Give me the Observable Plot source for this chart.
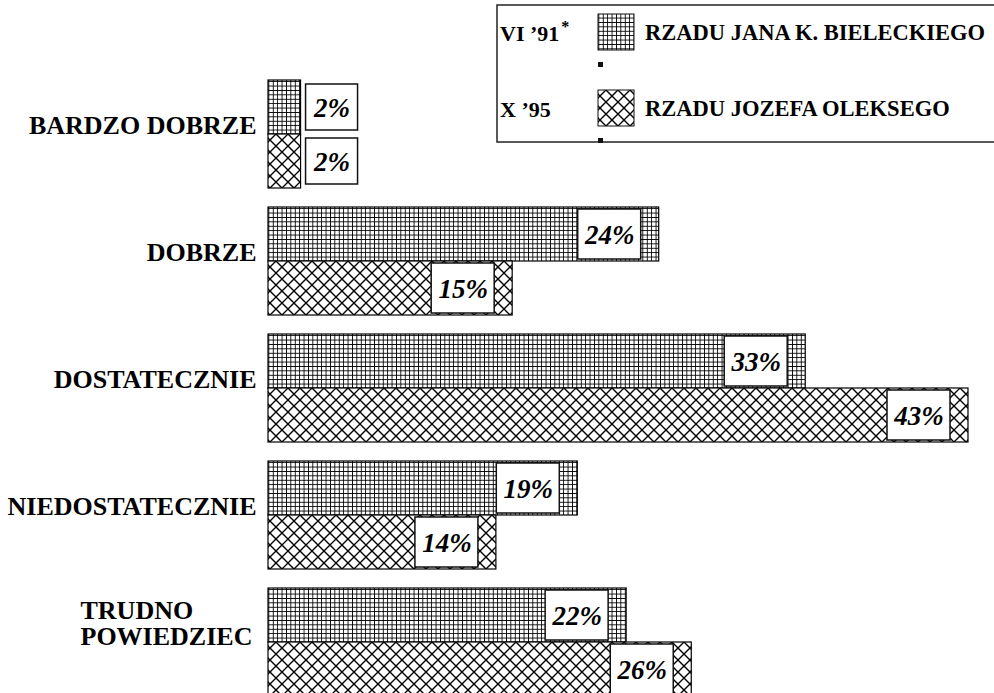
<!DOCTYPE html>
<html>
<head>
<meta charset="utf-8">
<script src="https://cdn.jsdelivr.net/npm/d3@7"></script>
<script src="https://cdn.jsdelivr.net/npm/@observablehq/plot@0.6"></script>
<style>
  html, body { margin: 0; padding: 0; background: #fff; overflow: hidden; }
</style>
</head>
<body>
<div id="chart"></div>
<script>
// ---- data ----
const categories = ["BARDZO DOBRZE", "DOBRZE", "DOSTATECZNIE", "NIEDOSTATECZNIE", "TRUDNO\nPOWIEDZIEC"];
const seriesKeys = ["VI '91", "X '95"];
const seriesNames = ["RZADU JANA K. BIELECKIEGO", "RZADU JOZEFA OLEKSEGO"];
const legendLabels = ["VI \u201991", "X \u201995"];
const values91 = [2, 24, 33, 19, 22];
const values95 = [2, 15, 43, 14, 26];

const rows = [];
categories.forEach((c, i) => {
  rows.push({category: c, series: seriesKeys[0], value: values91[i]});
  rows.push({category: c, series: seriesKeys[1], value: values95[i]});
});
const inside = rows.filter(d => d.value >= 5);
const outside = rows.filter(d => d.value < 5);
const singleLine = categories.filter(c => !c.includes("\n"));
const multiLine = categories.filter(c => c.includes("\n"));

const FONT = "Liberation Serif, Times New Roman, serif";

const chart = Plot.plot({
  width: 994,
  height: 697,
  marginLeft: 268,
  marginRight: 26,
  marginTop: 77,
  marginBottom: 0,
  style: {fontFamily: FONT, background: "white"},
  x: {domain: [0, 43], axis: null},
  y: {domain: seriesKeys, axis: null, paddingInner: 0, paddingOuter: 0},
  fy: {domain: categories, axis: null, paddingInner: 0.145, paddingOuter: 0},
  marks: [
    Plot.barX(rows.filter(d => d.series === seriesKeys[0]), {
      x: "value", y: "series", fy: "category",
      fill: "url(#gridPat)", stroke: "#000", strokeWidth: 1.2
    }),
    Plot.barX(rows.filter(d => d.series === seriesKeys[1]), {
      x: "value", y: "series", fy: "category",
      fill: "url(#crossPat)", stroke: "#000", strokeWidth: 1.2
    }),
    // value boxes inside the bar end
    Plot.barX(inside, {
      x1: "value", x2: "value", y: "series", fy: "category",
      insetLeft: -81, insetRight: 18, insetTop: 2, insetBottom: 2,
      fill: "white", stroke: "#111", strokeWidth: 1.5
    }),
    Plot.text(inside, {
      x: "value", y: "series", fy: "category",
      text: d => d.value + "%", dx: -49.5, dy: 1,
      fontSize: 27, fontWeight: "bold", fontStyle: "italic", fill: "#000"
    }),
    // value boxes outside small bars
    Plot.barX(outside, {
      x1: "value", x2: "value", y: "series", fy: "category",
      insetLeft: 5, insetRight: -57, insetTop: 4, insetBottom: 4,
      fill: "white", stroke: "#111", strokeWidth: 1.5
    }),
    Plot.text(outside, {
      x: "value", y: "series", fy: "category",
      text: d => d.value + "%", dx: 31, dy: 1,
      fontSize: 27, fontWeight: "bold", fontStyle: "italic", fill: "#000"
    }),
    // category labels
    Plot.text(singleLine, {
      fy: d => d, text: d => d, frameAnchor: "left", textAnchor: "end",
      dx: -12, dy: -8, fontSize: 26, fontWeight: "bold", fill: "#000"
    }),
    Plot.text(multiLine, {
      fy: d => d, text: d => d, frameAnchor: "left", textAnchor: "start",
      dx: -188, dy: -18, lineHeight: 1.0, fontSize: 26, fontWeight: "bold", fill: "#000"
    })
  ]
});

document.getElementById("chart").appendChild(chart);

const svg = d3.select(chart.tagName.toLowerCase() === "svg" ? chart : chart.querySelector("svg"));
const defs = svg.insert("defs", ":first-child");
const g1 = defs.append("pattern").attr("id", "gridPat").attr("patternUnits", "userSpaceOnUse")
  .attr("width", 4.4).attr("height", 4.4);
g1.append("rect").attr("width", 4.4).attr("height", 4.4).attr("fill", "white");
g1.append("path").attr("d", "M0,0.6H4.4M0.6,0V4.4").attr("stroke", "#000").attr("stroke-width", 1.4)
  .attr("shape-rendering", "crispEdges");
const g2 = defs.append("pattern").attr("id", "crossPat").attr("patternUnits", "userSpaceOnUse")
  .attr("width", 12).attr("height", 12);
g2.append("rect").attr("width", 12).attr("height", 12).attr("fill", "white");
g2.append("path").attr("d", "M-1,-1L13,13M13,-1L-1,13").attr("stroke", "#000").attr("stroke-width", 1.4);

// legend
const lg = svg.append("g").attr("font-family", FONT).attr("font-weight", "bold")
  .attr("fill", "#000").attr("text-anchor", "start");
lg.append("rect").attr("x", 497).attr("y", 5).attr("width", 520).attr("height", 137)
  .attr("fill", "white").attr("stroke", "#222").attr("stroke-width", 1.5);
const pats = ["url(#gridPat)", "url(#crossPat)"];
const rowY = [14, 90];
[0, 1].forEach(i => {
  const t = lg.append("text").attr("x", 500).attr("y", rowY[i] + 27).attr("font-size", 22).text(legendLabels[i]);
  if (i === 0) t.append("tspan").attr("dy", -9).attr("dx", 2).attr("font-size", 16).text("*");
  lg.append("rect").attr("x", 598).attr("y", rowY[i]).attr("width", 36).attr("height", 36)
    .attr("fill", pats[i]).attr("stroke", "#111").attr("stroke-width", 1);
  lg.append("rect").attr("x", 598).attr("y", rowY[i] + 48).attr("width", 5).attr("height", 5).attr("fill", "#111");
  lg.append("text").attr("x", 645).attr("y", rowY[i] + 26).attr("font-size", 22.5).text(seriesNames[i]);
});
</script>
</body>
</html>
